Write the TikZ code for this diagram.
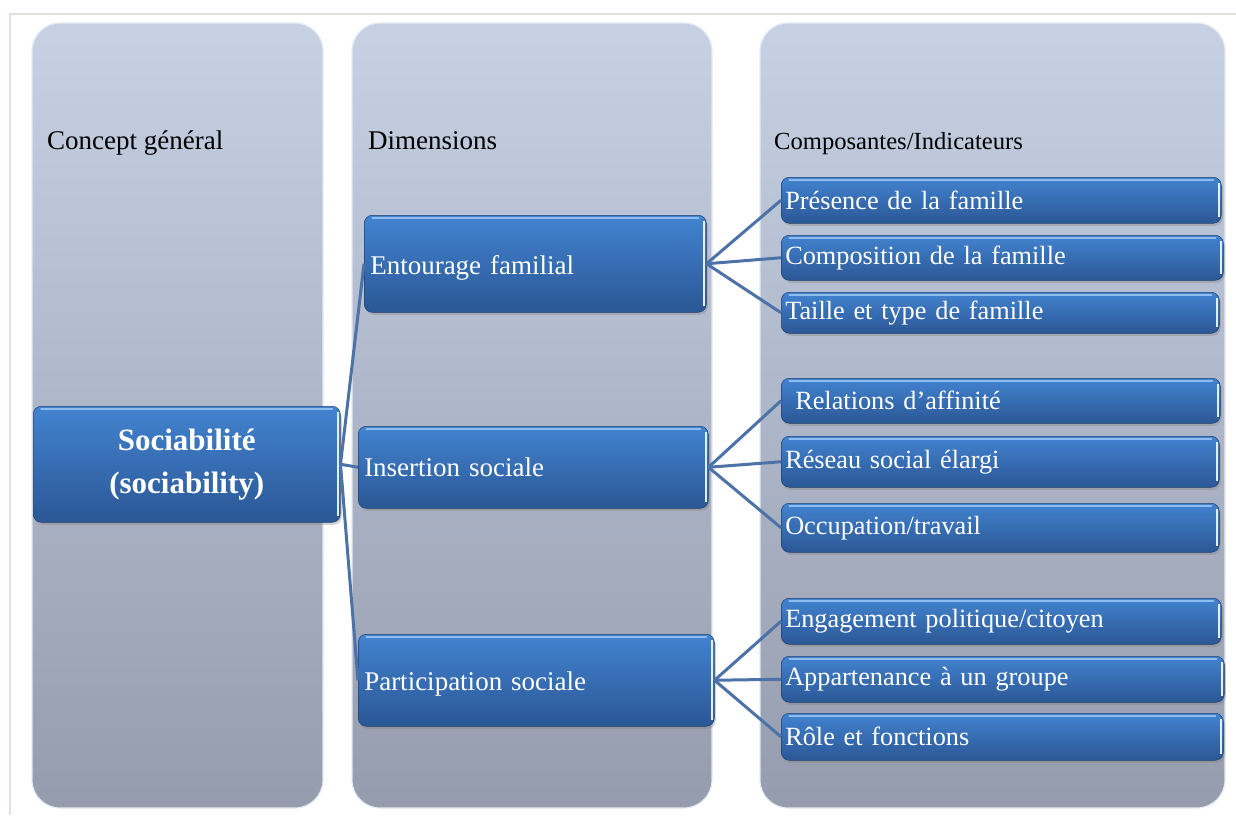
\documentclass[tikz,border=0pt]{standalone}
\usepackage{fontspec}
\setmainfont{Liberation Serif}
\usetikzlibrary{shadows}
\definecolor{colT}{HTML}{C6D1E4}
\definecolor{colB}{HTML}{959CAD}
\definecolor{boxT}{HTML}{4283D0}
\definecolor{boxB}{HTML}{2B5795}
\definecolor{link}{HTML}{4C72A8}
\definecolor{framec}{HTML}{E3DFDA}
\definecolor{hilite}{HTML}{8FBDF0}
\tikzset{
  column/.style={top color=colT, bottom color=colB, rounded corners=28pt,
    draw=white!55!colT, line width=1.2pt},
  header/.style={anchor=base west, inner sep=0pt, text=black},
  bbox/.style={rounded corners=8pt, top color=boxT, bottom color=boxB,
    draw=boxB!75!black, line width=0.5pt,
    drop shadow={shadow xshift=1.5pt, shadow yshift=-2.5pt, opacity=0.35},
    text=white, anchor=north west, inner ysep=0pt, align=left,
    path picture={
      \draw[hilite, line width=2pt, line cap=round]
        ([xshift=8pt,yshift=-2.5pt]path picture bounding box.north west) --
        ([xshift=-8pt,yshift=-2.5pt]path picture bounding box.north east);
      \draw[white!75!hilite, line width=2pt]
        ([xshift=-2pt,yshift=-6pt]path picture bounding box.north east) --
        ([xshift=-2pt,yshift=6pt]path picture bounding box.south east);
    }},
  ibox/.style={bbox, inner xsep=4pt, font=\fontsize{26.3}{30}\selectfont},
  dbox/.style={bbox, inner xsep=6pt, font=\fontsize{27}{31}\selectfont},
  link/.style={draw=link, line width=3pt},
}
\begin{document}
\begin{tikzpicture}[x=1pt, y=-1pt]
\useasboundingbox (0,0) rectangle (1236,815);
\fill[white] (0,0) rectangle (1236,815);
% frame
\draw[framec, line width=1.5pt] (10,815) -- (10,14) -- (1236,14);
% columns
\shade[column] (32,23) rectangle (323,808);
\shade[column] (352,23) rectangle (712,808);
\shade[column] (760,23) rectangle (1225,808);
% headers
\node[header, font=\fontsize{27}{31}\selectfont] (h1) at (47,149) {Concept général};
\node[header, font=\fontsize{27}{31}\selectfont] (h2) at (368,149) {Dimensions};
\node[header, font=\fontsize{24.6}{28}\selectfont] (h3) at (774,149) {Composantes/Indicateurs};
% main concept
\node[bbox, align=center, inner xsep=4pt, minimum width=307pt, minimum height=116pt,
      font=\bfseries\fontsize{31}{43}\selectfont] (soc) at (33,406) {Sociabilité\\(sociability)};
% dimensions
\node[dbox, minimum width=342pt, minimum height=97pt, text width=330pt, text height=27pt, text depth=6pt] (ent) at (364,215) {Entourage familial};
\node[dbox, minimum width=350pt, minimum height=82pt, text width=338pt] (ins) at (358,426) {Insertion sociale};
\node[dbox, minimum width=356pt, minimum height=92pt, text width=344pt, text height=27pt, text depth=6pt] (par) at (358,634) {Participation sociale};
% indicators
\node[ibox, minimum width=440pt, minimum height=46pt, text width=432pt] (pres) at (781,177) {Présence de la famille};
\node[ibox, minimum width=442pt, minimum height=45pt, text width=434pt] (comp) at (781,235) {Composition de la famille};
\node[ibox, minimum width=438pt, minimum height=41pt, text width=430pt] (tail) at (781,292) {Taille et type de famille};
\node[ibox, minimum width=439pt, minimum height=45pt, text width=431pt] (rel) at (781,378) {\hspace*{10pt}Relations d’affinité};
\node[ibox, minimum width=438pt, minimum height=51pt, text width=430pt] (res) at (781,436) {Réseau social élargi};
\node[ibox, minimum width=438pt, minimum height=49pt, text width=430pt] (occ) at (781,503) {Occupation/travail};
\node[ibox, minimum width=440pt, minimum height=46pt, text width=432pt] (eng) at (781,598) {Engagement politique/citoyen};
\node[ibox, minimum width=443pt, minimum height=46pt, text width=435pt] (app) at (781,656) {Appartenance à un groupe};
\node[ibox, minimum width=442pt, minimum height=47pt, text width=434pt] (role) at (781,713) {Rôle et fonctions};
% connectors
\draw[link] (soc.east) -- (ent.west);
\draw[link] (soc.east) -- (ins.west);
\draw[link] (soc.east) -- (par.west);
\draw[link] (ent.east) -- (pres.west);
\draw[link] (ent.east) -- (comp.west);
\draw[link] (ent.east) -- (tail.west);
\draw[link] (ins.east) -- (rel.west);
\draw[link] (ins.east) -- (res.west);
\draw[link] (ins.east) -- (occ.west);
\draw[link] (par.east) -- (eng.west);
\draw[link] (par.east) -- (app.west);
\draw[link] (par.east) -- (role.west);
\end{tikzpicture}
\end{document}
